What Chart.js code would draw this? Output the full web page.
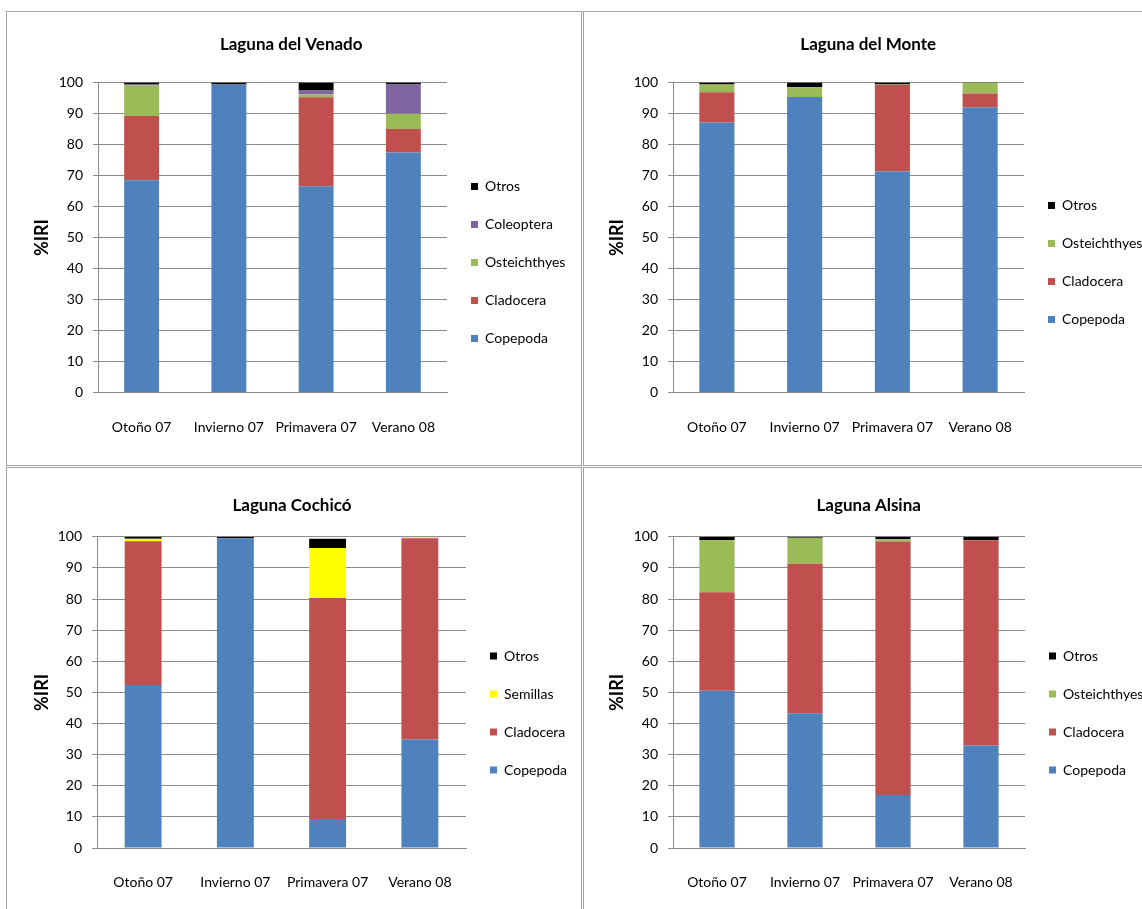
<!DOCTYPE html>
<html>
<head>
<meta charset="utf-8">
<script src="https://cdn.jsdelivr.net/npm/chart.js@4.4.1/dist/chart.umd.min.js"></script>
<style>
  html, body { margin: 0; padding: 0; background: #ffffff; }
  body { width: 1142px; height: 909px; position: relative; overflow: hidden; }
  .panel { position: absolute; border: 1px solid #a3a3a3; box-sizing: border-box; background: #fff; }
  canvas { position: absolute; }
</style>
</head>
<body>
<div class="panel" style="left:6px; top:11px; width:576px; height:455px;"></div>
<div class="panel" style="left:583px; top:11px; width:570px; height:455px;"></div>
<div class="panel" style="left:6px; top:467px; width:576px; height:460px;"></div>
<div class="panel" style="left:583px; top:467px; width:570px; height:460px;"></div>
<canvas id="c1" width="573" height="452" style="left:7px; top:12px;"></canvas>
<canvas id="c2" width="600" height="452" style="left:584px; top:12px;"></canvas>
<canvas id="c3" width="573" height="441" style="left:7px; top:468px;"></canvas>
<canvas id="c4" width="600" height="441" style="left:584px; top:468px;"></canvas>
<script>
// ---- Data ----
const categories = ['Otoño 07', 'Invierno 07', 'Primavera 07', 'Verano 08'];
const yTicks = [0, 10, 20, 30, 40, 50, 60, 70, 80, 90, 100];

// Laguna del Venado
const venadoCopepoda     = [68.5, 99.3, 66.5, 77.4];
const venadoCladocera    = [20.7, 0.0, 28.7, 7.6];
const venadoOsteichthyes = [9.8, 0.0, 0.9, 4.9];
const venadoColeoptera   = [0.3, 0.0, 1.3, 9.4];
const venadoOtros        = [0.7, 0.7, 2.6, 0.7];

// Laguna del Monte
const monteCopepoda     = [87.1, 95.3, 71.3, 91.9];
const monteCladocera    = [9.7, 0.0, 27.9, 4.5];
const monteOsteichthyes = [2.5, 3.1, 0.1, 3.5];
const monteOtros        = [0.7, 1.6, 0.7, 0.1];

// Laguna Cochicó
const cochicoCopepoda  = [52.4, 99.5, 9.3, 34.9];
const cochicoCladocera = [46.2, 0.0, 71.0, 64.6];
const cochicoSemillas  = [0.8, 0.0, 16.1, 0.5];
const cochicoOtros     = [0.6, 0.5, 3.0, 0.0];

// Laguna Alsina
const alsinaCopepoda     = [50.5, 43.3, 17.0, 32.9];
const alsinaCladocera    = [31.7, 48.0, 81.5, 66.0];
const alsinaOsteichthyes = [16.7, 8.4, 0.7, 0.0];
const alsinaOtros        = [1.1, 0.3, 0.8, 1.1];

// ---- Styles ----
const COLORS = {
  Copepoda: '#4F81BD',
  Cladocera: '#C0504D',
  Osteichthyes: '#9BBB59',
  Coleoptera: '#8064A2',
  Semillas: '#FFFF00',
  Otros: '#000000'
};
const FONT = "Lato, 'Liberation Sans', sans-serif";
const GRID = '#8c8c8c';
const LEG_SIZE = 14, LEG_PAD = 24, LEG_BOX = 7;

function ds(label, data) {
  return { label: label, data: data, backgroundColor: COLORS[label], borderWidth: 0,
           barPercentage: 0.4, categoryPercentage: 1.0 };
}

const measureCtx = document.createElement('canvas').getContext('2d');
function legendWidth(labels) {
  measureCtx.font = LEG_SIZE + 'px ' + FONT;
  let m = 0;
  labels.forEach(l => { m = Math.max(m, measureCtx.measureText(l).width); });
  return LEG_PAD + LEG_BOX + LEG_SIZE / 2 + m + 10;
}

function makeChart(id, title, datasets, geo) {
  const ctx = document.getElementById(id);
  const H = ctx.height, W = ctx.width;
  const lw = legendWidth(datasets.map(d => d.label));
  const padRight = Math.max(0, W - geo.right - lw);
  return new Chart(ctx, {
    type: 'bar',
    data: { labels: categories, datasets: datasets },
    options: {
      responsive: false,
      animation: false,
      devicePixelRatio: 1,
      layout: { padding: { left: 0, top: 0, bottom: 0, right: padRight } },
      plugins: {
        title: {
          display: true, text: title, color: '#000',
          font: { family: FONT, size: 17, weight: 'bold' },
          padding: { top: geo.titleTop, bottom: geo.titleBottom }
        },
        legend: {
          display: true, position: 'right', reverse: true,
          title: { display: true, text: ' ', font: { size: 10 }, padding: { top: 18, bottom: 19 } },
          labels: {
            boxWidth: LEG_BOX, boxHeight: LEG_BOX, padding: LEG_PAD, color: '#000',
            font: { family: FONT, size: LEG_SIZE }
          }
        },
        tooltip: { enabled: false }
      },
      scales: {
        x: {
          stacked: true,
          grid: { display: false, drawTicks: false },
          border: { display: true, color: GRID, width: 1 },
          ticks: { color: '#000', font: { family: FONT, size: 14 }, padding: 26, maxRotation: 0, autoSkip: false },
          afterFit: (s) => { s.height = H - geo.bottom; }
        },
        y: {
          stacked: true, min: 0, max: 100,
          afterBuildTicks: (s) => { s.ticks = yTicks.map(v => ({ value: v })); },
          grid: { color: GRID, lineWidth: 1, drawTicks: true, tickLength: 5, tickColor: GRID },
          border: { display: true, color: GRID, width: 1 },
          ticks: { color: '#000', font: { family: FONT, size: 14 }, padding: 10 },
          title: { display: true, text: '%IRI', color: '#000',
                   font: { family: FONT, size: 18, weight: 'bold' },
                   padding: { top: geo.yTitleTop, bottom: 0 } },
          afterFit: (s) => { s.width = geo.left; }
        }
      }
    }
  });
}

makeChart('c1', 'Laguna del Venado', [
  ds('Copepoda', venadoCopepoda), ds('Cladocera', venadoCladocera),
  ds('Osteichthyes', venadoOsteichthyes), ds('Coleoptera', venadoColeoptera),
  ds('Otros', venadoOtros)
], { left: 91, right: 440, bottom: 380.7, titleTop: 22, titleBottom: 28, yTitleTop: 24 });

makeChart('c2', 'Laguna del Monte', [
  ds('Copepoda', monteCopepoda), ds('Cladocera', monteCladocera),
  ds('Osteichthyes', monteOsteichthyes), ds('Otros', monteOtros)
], { left: 89, right: 440, bottom: 380.7, titleTop: 22, titleBottom: 28, yTitleTop: 22 });

makeChart('c3', 'Laguna Cochicó', [
  ds('Copepoda', cochicoCopepoda), ds('Cladocera', cochicoCladocera),
  ds('Semillas', cochicoSemillas), ds('Otros', cochicoOtros)
], { left: 90, right: 459, bottom: 380, titleTop: 27, titleBottom: 21.4, yTitleTop: 24 });

makeChart('c4', 'Laguna Alsina', [
  ds('Copepoda', alsinaCopepoda), ds('Cladocera', alsinaCladocera),
  ds('Osteichthyes', alsinaOsteichthyes), ds('Otros', alsinaOtros)
], { left: 89, right: 441, bottom: 380, titleTop: 27, titleBottom: 21.4, yTitleTop: 22 });
</script>
</body>
</html>
